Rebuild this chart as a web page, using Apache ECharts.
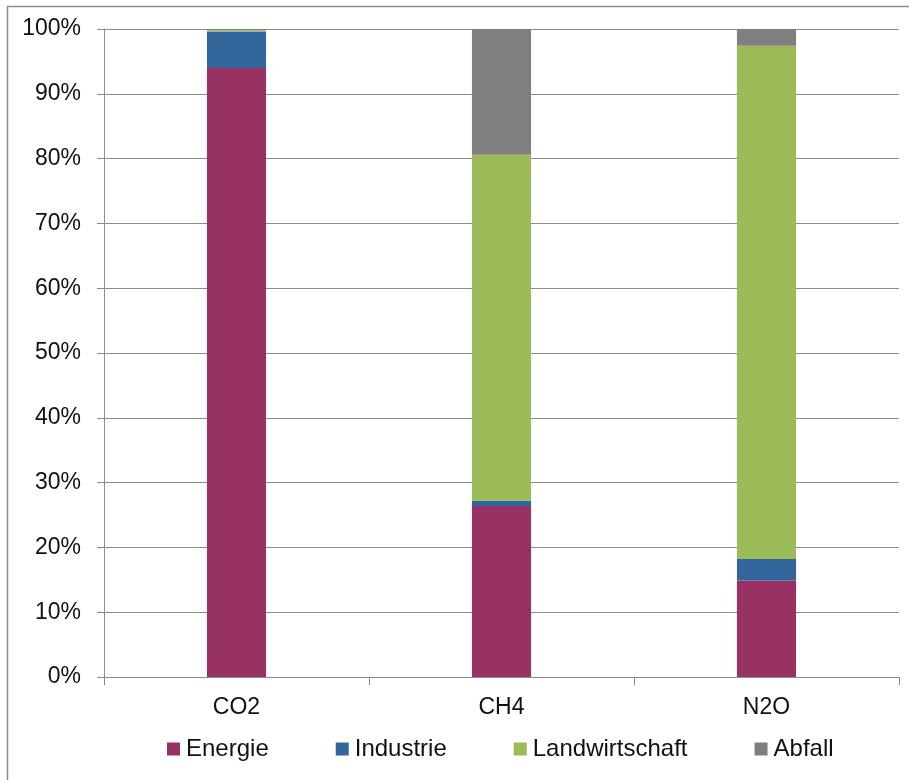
<!DOCTYPE html>
<html>
<head>
<meta charset="utf-8">
<script src="https://cdn.jsdelivr.net/npm/echarts@6/dist/echarts.min.js"></script>
<style>
  html, body { margin: 0; padding: 0; background: #fff; }
  #chart { width: 909px; height: 780px; }
</style>
</head>
<body>
<div id="chart"></div>
<script>
// Share of each sector in the emissions of every greenhouse gas (percent)
const gases = ['CO2', 'CH4', 'N2O'];
const energie = [94.0, 26.4, 14.9];
const industrie = [5.6, 0.8, 3.3];
const landwirtschaft = [0.2, 53.4, 79.2];
const abfall = [0.2, 19.4, 2.6];
const yTicks = [0, 10, 20, 30, 40, 50, 60, 70, 80, 90, 100];

const colors = {
  Energie: '#983264',
  Industrie: '#33669c',
  Landwirtschaft: '#9bbb59',
  Abfall: '#7f7f7f'
};

const font = '"Liberation Sans", Arial, sans-serif';
const textColor = '#111111';

function bar(name, values) {
  return {
    name: name,
    type: 'bar',
    stack: 'total',
    barWidth: '22.3%',
    data: values,
    itemStyle: { color: colors[name] },
    emphasis: { disabled: true }
  };
}

const chart = echarts.init(document.getElementById('chart'), null, { renderer: 'canvas' });
chart.setOption({
  animation: false,
  backgroundColor: '#ffffff',
  graphic: [{
    type: 'rect',
    shape: { x: 7.5, y: 6.5, width: 1000, height: 1000 },
    style: { fill: 'none', stroke: '#8c8c8c', lineWidth: 1.5 },
    silent: true
  }],
  grid: { left: 104, right: 10, top: 29, bottom: 103 },
  legend: {
    left: 167,
    top: 737,
    padding: 0,
    itemWidth: 13,
    itemHeight: 13,
    itemGap: 67,
    icon: 'rect',
    textStyle: { fontFamily: font, fontSize: 24, color: textColor, padding: [0, 0, 0, 1] },
    data: ['Energie', 'Industrie', 'Landwirtschaft', 'Abfall']
  },
  xAxis: {
    type: 'category',
    data: gases,
    axisLine: { lineStyle: { color: '#8c8c8c', width: 1 } },
    axisTick: { show: true, alignWithLabel: false, length: 8, lineStyle: { color: '#8c8c8c' } },
    axisLabel: { fontFamily: font, fontSize: 23, color: textColor, margin: 19 }
  },
  yAxis: {
    type: 'value',
    min: yTicks[0],
    max: yTicks[yTicks.length - 1],
    interval: 10,
    axisLine: { show: true, lineStyle: { color: '#8c8c8c', width: 1 } },
    axisTick: { show: true, length: 7, lineStyle: { color: '#8c8c8c' } },
    splitLine: { lineStyle: { color: '#8c8c8c', width: 1 } },
    axisLabel: {
      fontFamily: font, fontSize: 23, color: textColor, margin: 23,
      formatter: v => v + '%'
    }
  },
  series: [
    bar('Energie', energie),
    bar('Industrie', industrie),
    bar('Landwirtschaft', landwirtschaft),
    bar('Abfall', abfall)
  ]
});
</script>
</body>
</html>
